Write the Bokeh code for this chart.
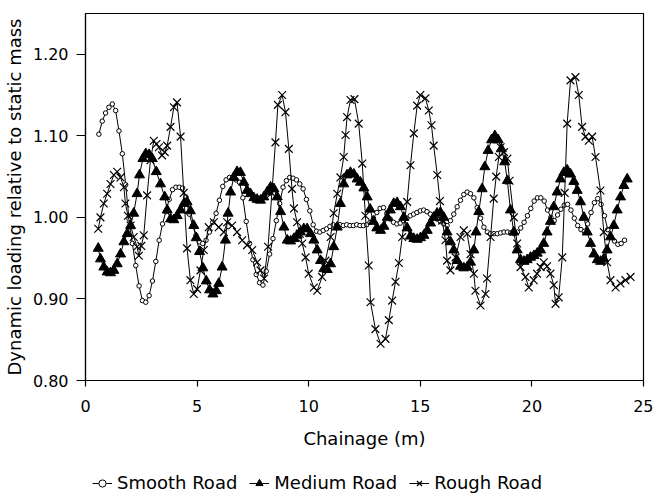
from bokeh.plotting import figure
from bokeh.models import Legend, LegendItem, Range1d, NumeralTickFormatter
from bokeh.layouts import column
from bokeh.embed import file_html
from bokeh.resources import INLINE

x_ticks = [0, 5, 10, 15, 20, 25]
y_ticks = [0.80, 0.90, 1.00, 1.10, 1.20]
series_names = ["Smooth Road", "Medium Road", "Rough Road"]

smooth_x = [
    0.60, 0.75, 0.90, 1.05, 1.20, 1.35, 1.50, 1.65, 1.80, 1.95,
    2.10, 2.25, 2.40, 2.55, 2.70, 2.85, 3.00, 3.15, 3.30, 3.45,
    3.60, 3.75, 3.90, 4.05, 4.20, 4.35, 4.50, 4.65, 4.80, 4.95,
    5.10, 5.25, 5.40, 5.55, 5.70, 5.85, 6.00, 6.15, 6.30, 6.45,
    6.60, 6.75, 6.90, 7.05, 7.20, 7.35, 7.50, 7.65, 7.80, 7.95,
    8.10, 8.25, 8.40, 8.55, 8.70, 8.85, 9.00, 9.15, 9.30, 9.45,
    9.60, 9.75, 9.90, 10.05, 10.20, 10.35, 10.50, 10.65, 10.80, 10.95,
    11.10, 11.25, 11.40, 11.55, 11.70, 11.85, 12.00, 12.15, 12.30, 12.45,
    12.60, 12.75, 12.90, 13.05, 13.20, 13.35, 13.50, 13.65, 13.80, 13.95,
    14.10, 14.25, 14.40, 14.55, 14.70, 14.85, 15.00, 15.15, 15.30, 15.45,
    15.60, 15.75, 15.90, 16.05, 16.20, 16.35, 16.50, 16.65, 16.80, 16.95,
    17.10, 17.25, 17.40, 17.55, 17.70, 17.85, 18.00, 18.15, 18.30, 18.45,
    18.60, 18.75, 18.90, 19.05, 19.20, 19.35, 19.50, 19.65, 19.80, 19.95,
    20.10, 20.25, 20.40, 20.55, 20.70, 20.85, 21.00, 21.15, 21.30, 21.45,
    21.60, 21.75, 21.90, 22.05, 22.20, 22.35, 22.50, 22.65, 22.80, 22.95,
    23.10, 23.25, 23.40, 23.55, 23.70, 23.85, 24.00, 24.15,
]
smooth_y = [
    1.102, 1.118, 1.128, 1.135, 1.139, 1.131, 1.106, 1.078, 1.040, 0.998,
    0.968, 0.941, 0.916, 0.898, 0.896, 0.904, 0.922, 0.946, 0.972, 0.992,
    1.007, 1.022, 1.034, 1.037, 1.037, 1.036, 1.025, 1.004, 0.990, 0.978,
    0.970, 0.968, 0.972, 0.982, 0.994, 1.005, 1.021, 1.038, 1.046, 1.049,
    1.048, 1.046, 1.043, 1.024, 0.995, 0.968, 0.948, 0.930, 0.920, 0.917,
    0.934, 0.955, 0.974, 0.996, 1.017, 1.037, 1.045, 1.049, 1.048, 1.046,
    1.041, 1.035, 1.022, 1.008, 0.991, 0.983, 0.982, 0.984, 0.986, 0.989,
    0.991, 0.990, 0.991, 0.990, 0.991, 0.990, 0.990, 0.991, 0.990, 0.990,
    0.991, 0.994, 0.999, 1.006, 1.011, 1.012, 1.005, 0.998, 0.994, 0.992,
    0.993, 0.996, 0.999, 1.002, 1.004, 1.006, 1.008, 1.009, 1.007, 1.004,
    1.001, 0.998, 0.995, 0.992, 0.990, 0.996, 1.004, 1.013, 1.021, 1.028,
    1.031, 1.029, 1.024, 1.012, 0.999, 0.988, 0.982, 0.980, 0.980, 0.980,
    0.981, 0.982, 0.982, 0.981, 0.980, 0.982, 0.987, 0.994, 1.002, 1.011,
    1.020, 1.024, 1.024, 1.020, 1.009, 1.000, 0.996, 1.003, 1.010, 1.015,
    1.016, 1.009, 0.999, 0.990, 0.985, 0.983, 0.992, 1.006, 1.018, 1.023,
    1.016, 1.002, 0.985, 0.976, 0.971, 0.967, 0.968, 0.972,
]

medium_x = [
    0.57, 0.67, 0.82, 0.97, 1.12, 1.27, 1.42, 1.57, 1.72, 1.87,
    2.02, 2.16, 2.31, 2.42, 2.57, 2.70, 2.85, 2.99, 3.17, 3.36,
    3.55, 3.66, 3.81, 3.96, 4.11, 4.26, 4.41, 4.55, 4.70, 4.85,
    4.96, 5.11, 5.26, 5.41, 5.56, 5.71, 5.86, 5.97, 6.12, 6.27,
    6.39, 6.50, 6.64, 6.79, 6.94, 7.09, 7.24, 7.39, 7.54, 7.69,
    7.84, 7.99, 8.14, 8.29, 8.44, 8.59, 8.74, 8.89, 9.04, 9.19,
    9.34, 9.48, 9.63, 9.78, 9.93, 10.08, 10.23, 10.38, 10.53, 10.68,
    10.83, 10.98, 11.12, 11.28, 11.42, 11.57, 11.72, 11.87, 12.02, 12.17,
    12.32, 12.47, 12.62, 12.75, 12.90, 13.05, 13.22, 13.37, 13.52, 13.66,
    13.81, 13.96, 14.11, 14.26, 14.41, 14.56, 14.71, 14.86, 15.01, 15.16,
    15.31, 15.46, 15.60, 15.75, 15.90, 16.05, 16.20, 16.35, 16.50, 16.65,
    16.80, 16.95, 17.10, 17.25, 17.40, 17.50, 17.62, 17.77, 17.89, 18.04,
    18.19, 18.34, 18.49, 18.63, 18.78, 18.90, 19.04, 19.19, 19.34, 19.49,
    19.64, 19.79, 19.94, 20.09, 20.24, 20.39, 20.53, 20.68, 20.83, 20.98,
    21.13, 21.28, 21.43, 21.58, 21.73, 21.88, 22.03, 22.18, 22.33, 22.48,
    22.63, 22.78, 22.93, 23.08, 23.22, 23.37, 23.52, 23.67, 23.82, 23.97,
    24.12, 24.27,
]
medium_y = [
    0.962, 0.949, 0.939, 0.933, 0.932, 0.935, 0.943, 0.955, 0.970, 0.980,
    0.990, 1.005, 1.029, 1.052, 1.072, 1.078, 1.077, 1.072, 1.056, 1.041,
    1.025, 1.009, 0.998, 0.997, 1.002, 1.009, 1.017, 1.019, 1.008, 0.990,
    0.975, 0.958, 0.938, 0.922, 0.911, 0.906, 0.910, 0.919, 0.939, 0.972,
    1.005, 1.031, 1.049, 1.056, 1.055, 1.043, 1.033, 1.029, 1.024, 1.022,
    1.021, 1.025, 1.031, 1.037, 1.035, 1.025, 1.007, 0.988, 0.972, 0.971,
    0.974, 0.978, 0.982, 0.986, 0.986, 0.980, 0.972, 0.960, 0.947, 0.937,
    0.936, 0.943, 0.964, 0.988, 1.017, 1.041, 1.052, 1.055, 1.053, 1.047,
    1.043, 1.036, 1.025, 1.010, 0.995, 0.987, 0.984, 0.989, 1.000, 1.009,
    1.017, 1.018, 1.013, 1.000, 0.987, 0.977, 0.974, 0.973, 0.975, 0.978,
    0.984, 0.993, 1.000, 1.005, 1.006, 1.000, 0.982, 0.970, 0.960, 0.947,
    0.940, 0.938, 0.939, 0.945, 0.960, 0.982, 1.007, 1.035, 1.062, 1.082,
    1.095, 1.100, 1.095, 1.084, 1.068, 1.045, 1.009, 0.982, 0.960, 0.948,
    0.946, 0.948, 0.951, 0.953, 0.956, 0.960, 0.968, 0.982, 0.995, 1.013,
    1.031, 1.047, 1.055, 1.058, 1.053, 1.044, 1.033, 1.019, 1.000, 0.982,
    0.968, 0.955, 0.948, 0.946, 0.949, 0.960, 0.976, 0.990, 1.009, 1.025,
    1.039, 1.047,
]

rough_x = [
    0.57, 0.67, 0.82, 0.97, 1.12, 1.27, 1.42, 1.57, 1.72, 1.79,
    1.90, 2.02, 2.16, 2.31, 2.39, 2.50, 2.61, 2.76, 2.91, 3.06,
    3.18, 3.29, 3.43, 3.55, 3.66, 3.81, 3.96, 4.10, 4.26, 4.40,
    4.55, 4.70, 4.85, 5.00, 5.15, 5.30, 5.52, 5.75, 5.97, 6.20,
    6.35, 6.57, 6.79, 7.02, 7.24, 7.47, 7.69, 7.84, 8.00, 8.18,
    8.35, 8.51, 8.62, 8.81, 8.96, 9.11, 9.25, 9.34, 9.48, 9.60,
    9.71, 9.86, 10.00, 10.23, 10.38, 10.60, 10.75, 10.98, 11.12, 11.28,
    11.42, 11.57, 11.65, 11.72, 11.87, 12.05, 12.24, 12.40, 12.54, 12.69,
    12.77, 12.99, 13.22, 13.44, 13.59, 13.74, 13.89, 14.04, 14.19, 14.41,
    14.56, 14.71, 14.86, 15.00, 15.23, 15.38, 15.50, 15.60, 15.76, 15.88,
    15.98, 16.13, 16.20, 16.35, 16.58, 16.80, 16.95, 17.10, 17.25, 17.40,
    17.47, 17.70, 17.92, 17.99, 18.15, 18.29, 18.40, 18.52, 18.60, 18.75,
    18.90, 19.00, 19.19, 19.34, 19.49, 19.71, 19.86, 20.08, 20.23, 20.39,
    20.53, 20.68, 20.83, 20.98, 21.06, 21.20, 21.36, 21.47, 21.58, 21.73,
    21.95, 22.10, 22.25, 22.40, 22.55, 22.70, 22.85, 23.07, 23.22, 23.37,
    23.52, 23.75, 23.97, 24.19, 24.42,
]
rough_y = [
    0.986, 1.000, 1.017, 1.029, 1.041, 1.052, 1.056, 1.049, 1.037, 1.017,
    1.002, 0.990, 0.976, 0.964, 0.953, 0.965, 0.978, 1.027, 1.070, 1.094,
    1.090, 1.086, 1.076, 1.080, 1.088, 1.111, 1.135, 1.141, 1.099, 1.030,
    0.962, 0.923, 0.906, 0.912, 0.935, 0.960, 0.988, 0.994, 0.988, 0.982,
    0.994, 0.990, 0.982, 0.972, 0.966, 0.960, 0.945, 0.935, 0.925, 0.964,
    1.030, 1.092, 1.138, 1.150, 1.129, 1.084, 1.035, 1.011, 0.994, 0.980,
    0.968, 0.951, 0.931, 0.914, 0.910, 0.927, 0.947, 0.976, 1.005, 1.029,
    1.049, 1.074, 1.101, 1.123, 1.144, 1.145, 1.115, 1.066, 1.002, 0.941,
    0.896, 0.863, 0.845, 0.851, 0.874, 0.898, 0.921, 0.944, 0.976, 1.019,
    1.064, 1.103, 1.137, 1.150, 1.146, 1.131, 1.113, 1.088, 1.052, 1.020,
    0.996, 0.972, 0.947, 0.935, 0.951, 0.976, 0.984, 0.980, 0.955, 0.931,
    0.910, 0.892, 0.906, 0.925, 0.976, 1.023, 1.050, 1.074, 1.086, 1.080,
    1.072, 1.045, 1.000, 0.968, 0.939, 0.927, 0.914, 0.923, 0.931, 0.939,
    0.945, 0.940, 0.931, 0.917, 0.894, 0.902, 0.951, 1.030, 1.115, 1.168,
    1.172, 1.150, 1.111, 1.099, 1.094, 1.099, 1.074, 1.033, 0.982, 0.945,
    0.923, 0.914, 0.919, 0.923, 0.927,
]

FONT = "DejaVu Sans"

p = figure(frame_width=558, frame_height=367,
           x_range=Range1d(0, 25), y_range=Range1d(0.80, 1.25),
           output_backend="svg", toolbar_location=None,
           min_border_left=77, min_border_right=10,
           min_border_top=13, min_border_bottom=88)

p.xgrid.visible = False
p.ygrid.visible = False
p.outline_line_color = "black"
p.outline_line_width = 1.2
p.background_fill_color = "white"
p.border_fill_color = "white"

p.xaxis.ticker = x_ticks
p.yaxis.ticker = y_ticks
p.yaxis.formatter = NumeralTickFormatter(format="0.00")
for ax in (p.xaxis[0], p.yaxis[0]):
    ax.axis_line_color = "black"
    ax.axis_line_width = 1.2
    ax.major_tick_line_color = "black"
    ax.major_tick_line_width = 1.2
    ax.minor_tick_line_color = None
    ax.major_tick_in = 0
    ax.major_label_text_font = FONT
    ax.major_label_text_font_size = "16px"
    ax.major_label_text_color = "black"
    ax.axis_label_text_font = FONT
    ax.axis_label_text_font_size = "18px"
    ax.axis_label_text_font_style = "normal"
    ax.axis_label_text_color = "black"

p.xaxis.major_tick_out = 6
p.xaxis.major_label_standoff = 13
p.xaxis.axis_label = "Chainage (m)"
p.xaxis.axis_label_standoff = 13
p.yaxis.major_tick_out = 9
p.yaxis.major_label_standoff = 8
p.yaxis.axis_label = "Dynamic loading relative to static mass"
p.yaxis.axis_label_standoff = 5

STYLES = [
    dict(marker="circle", size=4.5, fill_color="white", line_color="black", line_width=1),
    dict(marker="triangle", size=10, fill_color="black", line_color="black", line_width=1),
    dict(marker="x", size=11, line_color="black", line_width=1.2),
]
SERIES = [(smooth_x, smooth_y), (medium_x, medium_y), (rough_x, rough_y)]

for (xs, ys), st in zip(SERIES, STYLES):
    p.line(xs, ys, line_color="black", line_width=1)
    p.scatter(xs, ys, **st)

# Legend strip below the chart (a separate, axis-less figure whose view
# range excludes the data, so only its legend is visible).
p2 = figure(width=655, height=26, x_range=Range1d(0, 25), y_range=Range1d(10, 11),
            output_backend="svg", toolbar_location=None,
            x_axis_location=None, y_axis_location=None, min_border=0)
p2.xgrid.visible = False
p2.ygrid.visible = False
p2.outline_line_color = None
p2.background_fill_color = "white"
p2.border_fill_color = "white"

items = []
for name, (xs, ys), st in zip(series_names, SERIES, STYLES):
    lr = p2.line(xs, ys, line_color="black", line_width=1)
    sr = p2.scatter(xs, ys, **st)
    items.append(LegendItem(label=name, renderers=[lr, sr]))

legend = Legend(items=items, location=(7, 1), orientation="horizontal")
legend.glyph_width = 20
legend.glyph_height = 18
legend.label_standoff = 5
legend.spacing = 12
legend.padding = 0
legend.margin = 0
legend.border_line_color = None
legend.background_fill_alpha = 0
legend.label_text_font = FONT
legend.label_text_font_size = "18px"
legend.label_text_color = "black"
p2.add_layout(legend)

layout = column(p, p2, spacing=0)
open("out.html", "w").write(file_html(layout, INLINE))
